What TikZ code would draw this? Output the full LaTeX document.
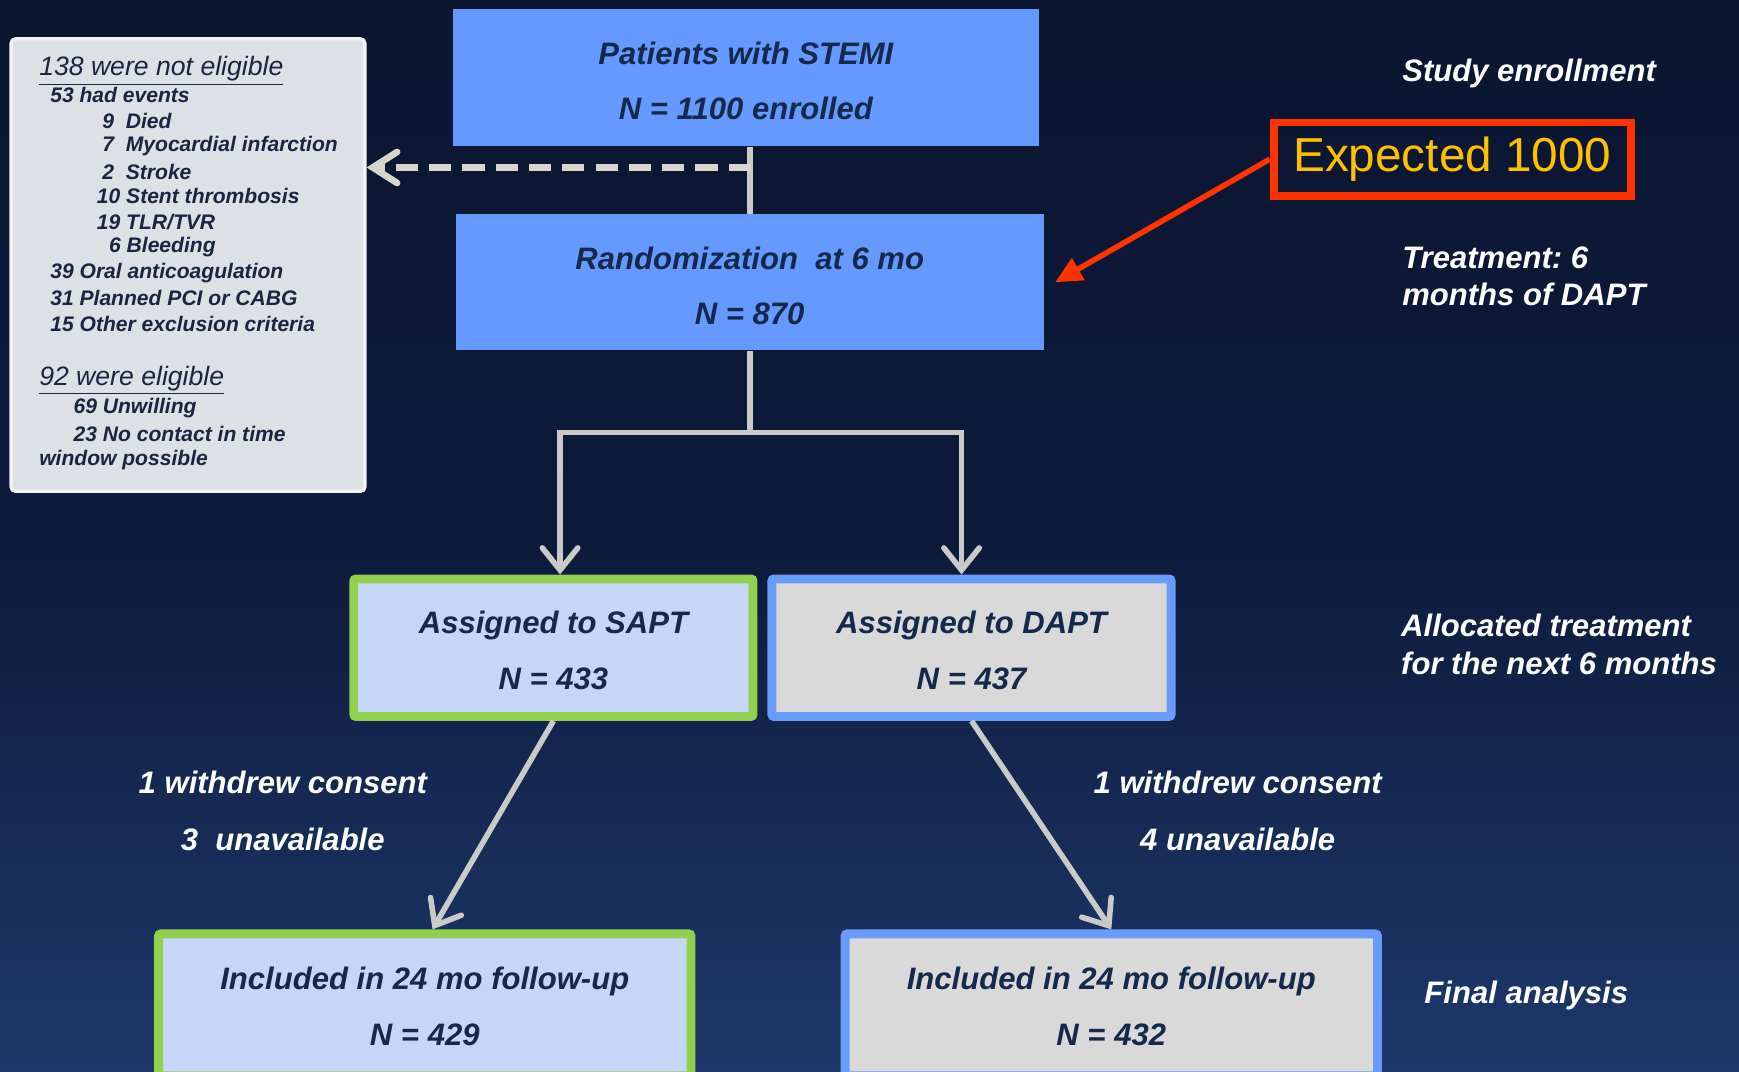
\documentclass[tikz,border=0pt]{standalone}
\usepackage{fontspec}
\setmainfont{Liberation Sans}
\usetikzlibrary{arrows.meta}
\definecolor{bgtop}{HTML}{0B1630}
\definecolor{bgmid}{HTML}{0D1A3A}
\definecolor{bglow}{HTML}{1C3566}
\definecolor{bgbot}{HTML}{2C5090}
\definecolor{boxblue}{HTML}{6699FF}
\definecolor{saptfill}{HTML}{C6D6F9}
\definecolor{saptline}{HTML}{92D050}
\definecolor{daptfill}{HTML}{D9D9D9}
\definecolor{daptline}{HTML}{6A9BF8}
\definecolor{boxtext}{HTML}{14294B}
\definecolor{conngray}{HTML}{CACACA}
\definecolor{dashgray}{HTML}{D6D6CE}
\definecolor{redline}{HTML}{FF3300}
\definecolor{expyellow}{HTML}{FFC000}
\definecolor{listfill}{HTML}{DDE0E4}
\definecolor{listtext}{HTML}{1B2440}
\pgfdeclareverticalshading{bgshade}{100bp}{color(0bp)=(bgbot); color(28bp)=(bglow); color(50bp)=(bgmid); color(75bp)=(bgtop); color(100bp)=(bgtop)}
\tikzset{
  boxfont/.style={font=\fontsize{14}{25}\selectfont\bfseries\itshape},
  topbox/.style={boxfont, fill=boxblue, text=boxtext, align=center, inner sep=0pt},
  sbox/.style={boxfont, fill=saptfill, draw=saptline, line width=4pt, text=boxtext, align=center, inner sep=0pt, rounded corners=1pt},
  dbox/.style={boxfont, fill=daptfill, draw=daptline, line width=4pt, text=boxtext, align=center, inner sep=0pt, rounded corners=1pt},
  boxtxt/.style={boxfont, text=boxtext, align=center, inner sep=0pt},
  listbox/.style={fill=listfill, draw=white!90!gray, line width=1.5pt, rounded corners=2pt, inner sep=0pt},
  heading/.style={font=\fontsize{12}{14}\selectfont\itshape, text=listtext, inner sep=0pt, anchor=west},
  item/.style={font=\fontsize{9.5}{11.5}\selectfont\bfseries\itshape, text=listtext, inner sep=0pt, anchor=west},
  lab/.style={font=\fontsize{14}{17}\selectfont\bfseries\itshape\frenchspacing, text=white, inner sep=0pt, align=left},
  sidelab/.style={font=\fontsize{14}{25.5}\selectfont\bfseries\itshape, text=white, inner sep=0pt, align=center},
  conn/.style={draw=conngray, line width=2.5pt},
  tipgray/.style={-{Straight Barb[length=10pt,width=16pt,line cap=round]}},
  dashconn/.style={draw=dashgray, line width=3pt, dash pattern=on 10pt off 5pt, -{Straight Barb[length=11pt,width=14pt,line cap=round]}},
  expbox/.style={draw=redline, line width=3.5pt, text=expyellow, font=\fontsize{21.5}{24}\selectfont, inner sep=0pt},
  redarrow/.style={draw=redline, line width=2.5pt, -{Triangle[length=12pt,width=11pt]}}
}
\begin{document}
\begin{tikzpicture}[x=0.5pt,y=-0.5pt]
\useasboundingbox (0,0) rectangle (1568,966);
\shade[shading=bgshade] (0,0) rectangle (1568,966);

% left list box
\node[listbox, minimum width=159.5pt, minimum height=204pt] (lb) at (169.5,239) {};
\node[heading] (l1) at (35,64) {\underline{138 were not eligible}};
\node[item] (l2) at (45,86) {53 had events};
\node[item] (l3) at (92,109) {9\ \ Died};
\node[item] (l4) at (92,132) {7\ \ Myocardial infarction};
\node[item] (l5) at (92,155) {2\ \ Stroke};
\node[item] (l6) at (87,177) {10 Stent thrombosis};
\node[item] (l7) at (87,200) {19 TLR/TVR};
\node[item] (l8) at (98,223) {6 Bleeding};
\node[item] (l9) at (45,246) {39 Oral anticoagulation};
\node[item] (l10) at (45,269) {31 Planned PCI or CABG};
\node[item] (l11) at (45,292) {15 Other exclusion criteria};
\node[heading] (l12) at (35,343) {\underline{92 were eligible}};
\node[item] (l13) at (66,368) {69 Unwilling};
\node[item] (l14) at (66,391) {23 No contact in time};
\node[item] (l15) at (35,415) {window possible};

% main boxes
\node[topbox, minimum width=264.5pt, minimum height=62pt] (top) at (672.5,70) {};
\node[boxtxt] (topt) at (672.5,73) {Patients with STEMI\\N = 1100 enrolled};
\node[topbox, minimum width=265pt, minimum height=61.5pt] (rand) at (676,254.5) {};
\node[boxtxt] (randt) at (676,258) {Randomization\ \ at 6 mo\\N = 870};
\node[sbox, minimum width=180pt, minimum height=62pt] (sapt) at (499,584) {};
\node[boxtxt] (saptt) at (499,586.5) {Assigned to SAPT\\N = 433};
\node[dbox, minimum width=180pt, minimum height=62pt] (dapt) at (876,584) {};
\node[boxtxt] (daptt) at (876,586.5) {Assigned to DAPT\\N = 437};
\node[sbox, minimum width=240pt, minimum height=64pt] (inc1) at (383,906) {};
\node[boxtxt] (inc1t) at (383,907.5) {Included in 24 mo follow-up\\N = 429};
\node[dbox, minimum width=240pt, minimum height=64pt] (inc2) at (1002,906) {};
\node[boxtxt] (inc2t) at (1002,907.5) {Included in 24 mo follow-up\\N = 432};

% connectors
\draw[conn] (rand.north |- top.south) -- (rand.north);
\coordinate (dj) at (677,151);
\draw[dashconn] (dj) -- (dj -| lb.east);
\coordinate (bc) at (676,390);
\draw[conn] (rand.south) -- (bc);
\draw[conn, tipgray] (bc) -| ([xshift=3pt]sapt.north);
\draw[conn, tipgray] (bc) -| ([xshift=-4.5pt]dapt.north);
\draw[conn, tipgray] (sapt.south) -- ([xshift=3.5pt]inc1.north);
\draw[conn, tipgray] (dapt.south) -- (inc2.north);

% expected
\node[expbox, minimum width=161pt, minimum height=33pt] (exp) at (1309.5,143.5) {Expected 1000};
\draw[redarrow] (exp.west) -- ([xshift=5pt]rand.east);

% side labels
\node[sidelab] (w1) at (255,731) {1 withdrew consent\\3\ \ unavailable};
\node[sidelab] (w2) at (1116,731) {1 withdrew consent\\4 unavailable};

% right column labels
\node[lab, anchor=west] (r1) at (1264,66) {Study enrollment};
\node[lab, anchor=west] (r2) at (1264,249) {Treatment: 6\\months of DAPT};
\node[lab, anchor=west] (r3) at (1263,581) {Allocated treatment\\for the next 6 months};
\node[lab, anchor=west] (r4) at (1284,898) {Final analysis};
\end{tikzpicture}
\end{document}
